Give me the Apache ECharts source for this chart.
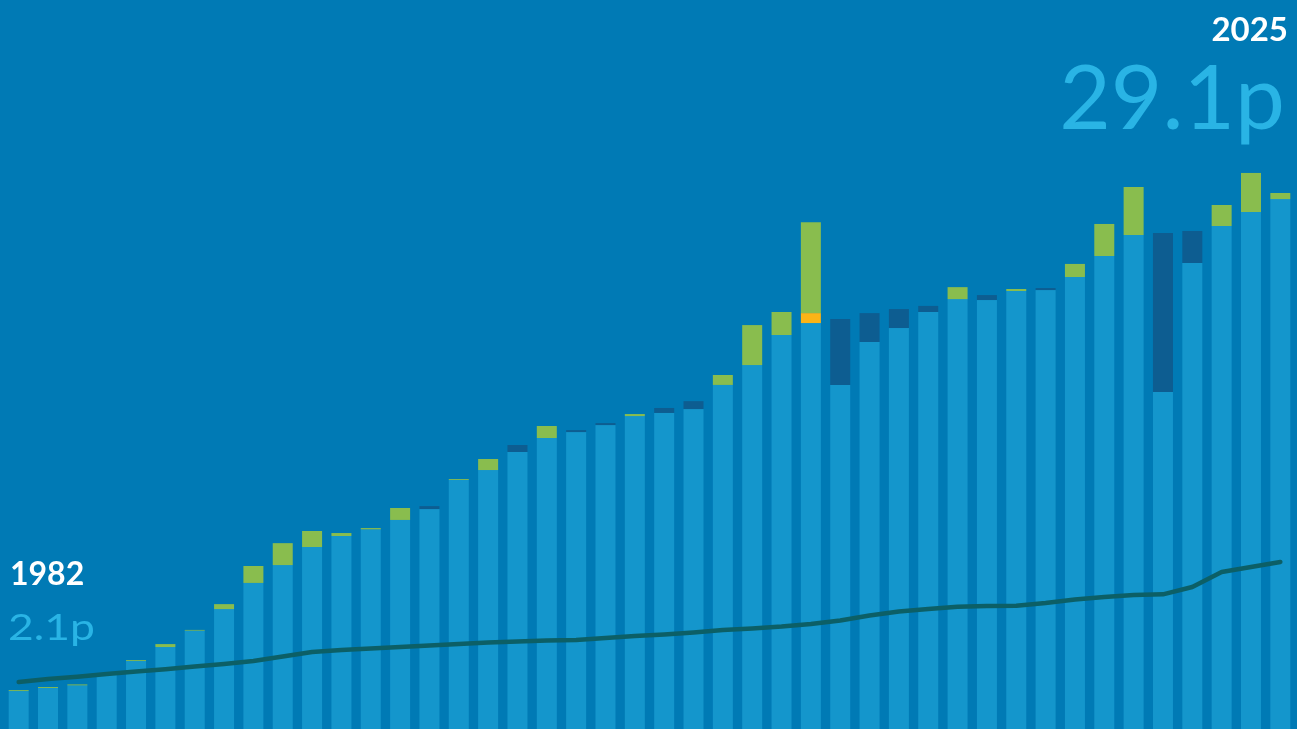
<!DOCTYPE html>
<html>
<head>
<meta charset="utf-8">
<script src="https://cdn.jsdelivr.net/npm/echarts@6/dist/echarts.min.js"></script>
<style>
  html, body { margin: 0; padding: 0; background: #007ab5; }
  #chart { width: 1297px; height: 729px; }
</style>
</head>
<body>
<div id="chart"></div>
<script>
const years = [
  '1982', '1983', '1984', '1985', '1986', '1987', '1988', '1989', '1990', '1991', '1992',
  '1993', '1994', '1995', '1996', '1997', '1998', '1999', '2000', '2001', '2002', '2003',
  '2004', '2005', '2006', '2007', '2008', '2009', '2010', '2011', '2012', '2013', '2014',
  '2015', '2016', '2017', '2018', '2019', '2020', '2021', '2022', '2023', '2024', '2025'
]

// light blue part of each bar (p)
const baseValue = [
  2.06, 2.23, 2.37, 2.99, 3.69, 4.45, 5.34, 6.51, 7.93, 8.90, 9.88,
  10.48, 10.84, 11.35, 11.94, 13.52, 14.06, 15.04, 15.80, 16.12, 16.50, 16.99,
  17.16, 17.37, 18.68, 19.76, 21.39, 22.04, 18.68, 21.01, 21.77, 22.64, 23.34,
  23.29, 23.78, 23.83, 24.54, 25.68, 26.82, 18.30, 25.30, 27.31, 28.07, 28.77
]

// top segment: positive = rise (green), negative = fall (dark blue)
const change = [
  0.05, 0.05, 0.05, 0.05, 0.05, 0.16, 0.04, 0.27, 0.92, 1.19, 0.87,
  0.16, 0.07, 0.65, -0.16, 0.05, 0.60, -0.38, 0.65, -0.11, -0.11, 0.11,
  -0.27, -0.43, 0.54, 2.17, 1.25, 4.94, -3.58, -1.57, -1.03, -0.33, 0.65,
  -0.27, 0.11, -0.11, 0.71, 1.74, 2.61, -8.63, -1.74, 1.14, 2.12, 0.33
]

// orange one-off segment
const oneOff = [
  0, 0, 0, 0, 0, 0, 0, 0, 0, 0, 0,
  0, 0, 0, 0, 0, 0, 0, 0, 0, 0, 0,
  0, 0, 0, 0, 0, 0.54, 0, 0, 0, 0, 0,
  0, 0, 0, 0, 0, 0, 0, 0, 0, 0, 0
]

// dark teal line
const lineValue = [
  2.55, 2.71, 2.84, 2.99, 3.12, 3.25, 3.39, 3.53, 3.69, 3.94, 4.18,
  4.29, 4.37, 4.45, 4.53, 4.61, 4.70, 4.75, 4.80, 4.83, 4.94, 5.05,
  5.13, 5.24, 5.37, 5.46, 5.56, 5.70, 5.89, 6.16, 6.38, 6.51, 6.64,
  6.68, 6.69, 6.84, 7.03, 7.17, 7.27, 7.31, 7.71, 8.52, 8.80, 9.07
]

const rise = change.map(v => (v > 0 ? v : '-'))
const fall = change.map(v => (v < 0 ? -v : '-'))

const chart = echarts.init(document.getElementById('chart'))

const barCommon = {
  type: 'bar',
  stack: 'total',
  barWidth: 20,
  silent: true
}

chart.setOption({
  backgroundColor: '#007ab5',
  animation: false,
  grid: { left: 4, right: 2, top: 0, bottom: 0 },
  xAxis: {
    type: 'category',
    data: years,
    show: false
  },
  yAxis: {
    type: 'value',
    min: 0,
    max: 39.58,
    show: false
  },
  series: [
    { ...barCommon, name: 'base', data: baseValue, itemStyle: { color: '#1496cc' } },
    { ...barCommon, name: 'oneOff', data: oneOff, itemStyle: { color: '#fbb416' } },
    { ...barCommon, name: 'rise', data: rise, itemStyle: { color: '#89bd4e' } },
    { ...barCommon, name: 'fall', data: fall, itemStyle: { color: '#0d5d91' } },
    {
      name: 'line',
      type: 'line',
      data: lineValue,
      symbol: 'none',
      silent: true,
      z: 5,
      lineStyle: { color: '#0c5f66', width: 4.5, cap: 'round', join: 'round' }
    }
  ],
  graphic: [
    {
      type: 'text',
      x: 1288, y: 30,
      style: { text: '2025', fill: '#ffffff', font: 'bold 33px Lato, "Open Sans", sans-serif', align: 'right', verticalAlign: 'middle' }
    },
    {
      type: 'text',
      x: 1285, y: 100,
      style: { text: '29.1p', fill: '#29b4e5', font: '400 89px Lato, "Open Sans", sans-serif', align: 'right', verticalAlign: 'middle' }
    },
    {
      type: 'text',
      x: 10, y: 575,
      style: { text: '1982', fill: '#ffffff', font: 'bold 32px Lato, "Open Sans", sans-serif', align: 'left', verticalAlign: 'middle' }
    },
    {
      type: 'text',
      x: 8, y: 628,
      scaleX: 1.2,
      style: { text: '2.1p', fill: '#29b4e5', font: '400 37px Lato, "Open Sans", sans-serif', align: 'left', verticalAlign: 'middle' }
    }
  ]
})
</script>
</body>
</html>
